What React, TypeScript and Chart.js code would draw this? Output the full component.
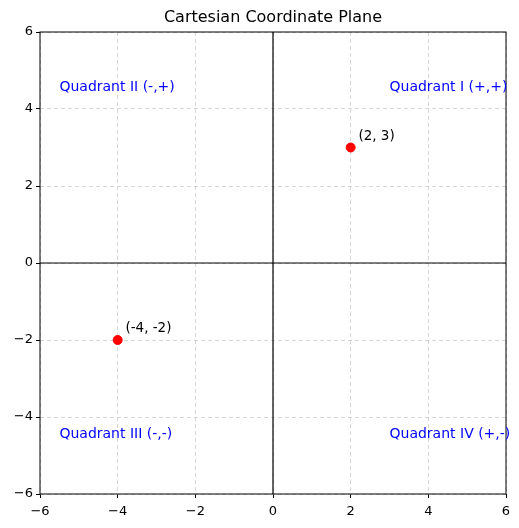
import { useEffect, useRef } from 'react';
import { Chart, registerables } from 'chart.js';

Chart.register(...registerables);

const pointsX = [2, -4];
const pointsY = [3, -2];
const pointLabels = ['(2, 3)', '(-4, -2)'];
const quadrantLabels = ['Quadrant I (+,+)', 'Quadrant II (-,+)', 'Quadrant III (-,-)', 'Quadrant IV (+,-)'];
const quadrantX = [3, -5.5, -5.5, 3];
const quadrantY = [4.5, 4.5, -4.5, -4.5];

const FONT = '"DejaVu Sans", sans-serif';

const overlay = {
  id: 'overlay',
  beforeDatasetsDraw(chart: any) {
    const { ctx, scales: { x, y }, chartArea: a } = chart;
    ctx.save();
    ctx.strokeStyle = '#000';
    ctx.lineWidth = 1.2;
    ctx.beginPath();
    ctx.moveTo(x.getPixelForValue(0), a.top);
    ctx.lineTo(x.getPixelForValue(0), a.bottom);
    ctx.moveTo(a.left, y.getPixelForValue(0));
    ctx.lineTo(a.right, y.getPixelForValue(0));
    ctx.stroke();
    ctx.restore();
  },
  afterDraw(chart: any) {
    const { ctx, scales: { x, y }, chartArea: a } = chart;
    ctx.save();
    ctx.strokeStyle = '#000';
    ctx.lineWidth = 1;
    ctx.strokeRect(a.left, a.top, a.right - a.left, a.bottom - a.top);
    ctx.font = `14px ${FONT}`;
    ctx.textBaseline = 'middle';
    ctx.textAlign = 'left';
    ctx.fillStyle = 'blue';
    quadrantLabels.forEach((t, i) => {
      ctx.fillText(t, x.getPixelForValue(quadrantX[i]), y.getPixelForValue(quadrantY[i]) - 2);
    });
    ctx.fillStyle = '#000';
    ctx.font = `13.5px ${FONT}`;
    ctx.textBaseline = 'alphabetic';
    pointLabels.forEach((t, i) => {
      ctx.fillText(t, x.getPixelForValue(pointsX[i] + 0.2), y.getPixelForValue(pointsY[i] + 0.2));
    });
    ctx.font = `16px ${FONT}`;
    ctx.textAlign = 'center';
    ctx.textBaseline = 'middle';
    ctx.fillText('Cartesian Coordinate Plane', (a.left + a.right) / 2, 18);
    ctx.restore();
  },
};

export default function App() {
  const ref = useRef<HTMLCanvasElement>(null);

  useEffect(() => {
    if (!ref.current) return;
    const fmt = (v: any) => String(v).replace('-', '\u2212');
    const tick = { color: '#000', font: { size: 13, family: FONT }, stepSize: 2, callback: fmt };
    const grid = { color: 'rgba(176,176,176,0.5)', tickColor: '#000', tickLength: 4 };
    const chart = new Chart(ref.current, {
      type: 'scatter',
      data: {
        datasets: [{
          data: pointsX.map((v, i) => ({ x: v, y: pointsY[i] })),
          backgroundColor: 'red',
          borderColor: 'red',
          pointRadius: 4.5,
        }],
      },
      options: {
        animation: false,
        responsive: false,
        layout: { padding: { top: 32, right: 13, left: 0, bottom: 0 } },
        plugins: { legend: { display: false }, tooltip: { enabled: false } },
        scales: {
          x: {
            min: -6, max: 6, ticks: { ...tick, padding: 6 },
            grid: grid as any,
            border: { display: false, dash: [4, 3] },
            afterFit: (s: any) => { s.height = 34; },
          },
          y: {
            min: -6, max: 6, ticks: tick,
            grid: grid as any,
            border: { display: false, dash: [4, 3] },
            afterFit: (s: any) => { s.width = 40; },
          },
        },
      },
      plugins: [overlay],
    });
    return () => chart.destroy();
  }, []);

  return (
    <div style={{ position: 'absolute', left: 0, top: 0 }}>
      <canvas ref={ref} width={519} height={528} style={{ width: 519, height: 528 }} />
    </div>
  );
}
